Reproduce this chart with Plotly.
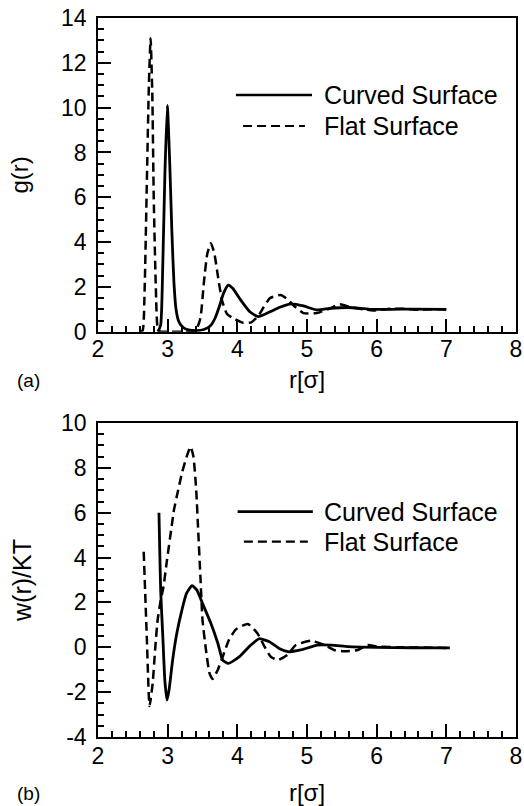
import plotly.graph_objects as go
from plotly.subplots import make_subplots

# ---- data: (a) radial distribution g(r) ----
r_g_curved = [2.86, 2.90, 2.93, 2.96, 2.995, 3.03, 3.06, 3.09, 3.12, 3.16, 3.22, 3.30, 3.42, 3.52,
              3.61, 3.68, 3.75, 3.80, 3.87, 3.93, 4.04, 4.18, 4.30, 4.47, 4.61, 4.77, 4.95, 5.14,
              5.33, 5.60, 5.90, 6.20, 6.50, 7.00]
g_curved = [0.0, 0.3, 3.0, 7.0, 10.1, 7.5, 4.5, 2.2, 1.0, 0.45, 0.2, 0.08, 0.05, 0.1,
            0.25, 0.6, 1.2, 1.7, 2.08, 1.95, 1.45, 0.89, 0.67, 0.89, 1.09, 1.24, 1.15, 0.97,
            1.04, 1.08, 1.0, 1.0, 1.01, 1.0]

r_g_flat = [2.60, 2.64, 2.67, 2.70, 2.73, 2.755, 2.78, 2.80, 2.83, 2.86, 2.90, 3.00, 3.20, 3.40,
            3.47, 3.52, 3.57, 3.62, 3.67, 3.72, 3.78, 3.85, 3.94, 4.08, 4.20, 4.30, 4.37, 4.47,
            4.62, 4.72, 4.80, 4.95, 5.14, 5.30, 5.47, 5.62, 5.81, 5.95, 6.20, 6.40, 6.60, 6.80, 7.00]
g_flat = [0.0, 0.05, 2.0, 6.5, 11.0, 13.1, 10.5, 6.0, 2.0, 0.1, 0.0, 0.0, 0.0, 0.05,
          0.6, 2.2, 3.5, 3.95, 3.5, 2.5, 1.4, 0.8, 0.6, 0.4, 0.42, 0.7, 1.06, 1.5,
          1.64, 1.45, 1.19, 0.83, 0.83, 1.0, 1.22, 1.1, 1.0, 0.95, 1.02, 1.02, 0.98, 1.0, 1.0]

# ---- data: (b) potential of mean force w(r)/KT ----
r_w_curved = [2.875, 2.885, 2.90, 2.93, 2.96, 2.99, 3.02, 3.07, 3.13, 3.20, 3.27, 3.35, 3.42,
              3.50, 3.62, 3.72, 3.79, 3.87, 4.03, 4.17, 4.31, 4.46, 4.60, 4.74, 4.91, 5.15,
              5.35, 5.60, 6.00, 6.50, 7.05]
w_curved = [6.0, 4.5, 2.5, 0.5, -1.5, -2.35, -1.9, -0.6, 0.6, 1.6, 2.4, 2.75, 2.55,
            1.96, 1.07, 0.18, -0.57, -0.72, -0.42, 0.03, 0.38, 0.25, -0.05, -0.2, -0.12, 0.1,
            0.1, 0.03, 0.0, -0.02, -0.03]

r_w_flat = [2.656, 2.70, 2.74, 2.785, 2.82, 2.856, 2.90, 2.94, 2.99, 3.05, 3.09, 3.15, 3.21, 3.28,
            3.33, 3.37, 3.41, 3.44, 3.47, 3.50, 3.55, 3.60, 3.645, 3.72, 3.79, 3.88, 3.98, 4.15,
            4.29, 4.39, 4.48, 4.58, 4.72, 4.84, 5.06, 5.25, 5.39, 5.53, 5.73, 5.87, 6.01, 6.40,
            6.80, 7.05]
w_flat = [4.26, 0.5, -2.62, -1.6, -0.1, 1.22, 2.1, 2.7, 3.89, 5.23, 6.12, 7.0, 7.83, 8.57,
          8.94, 8.5, 7.0, 5.08, 3.15, 1.22, -0.12, -1.15, -1.41, -1.0, -0.42, 0.33, 0.8, 1.04,
          0.62, 0.03, -0.42, -0.57, -0.34, 0.1, 0.29, 0.1, -0.12, -0.18, -0.12, 0.1, 0.03, 0.0,
          -0.02, -0.03]

series_names = ["Curved Surface", "Flat Surface"]
w_ticks = [-4, -2, 0, 2, 4, 6, 8, 10]
w_ticktext = ["-4", "-2", "0", "2", "4", "6", "8", "10"]

FONT = "Liberation Sans, Arial, sans-serif"
DASH = "9px,5px"

fig = make_subplots(rows=2, cols=1)
fig.add_trace(go.Scatter(x=r_g_curved, y=g_curved, mode="lines", name=series_names[0],
                         line=dict(color="black", width=2.8, shape="spline", smoothing=0.5),
                         showlegend=False), row=1, col=1)
fig.add_trace(go.Scatter(x=r_g_flat, y=g_flat, mode="lines", name=series_names[1],
                         line=dict(color="black", width=2.5, dash=DASH, shape="spline", smoothing=0.5),
                         showlegend=False), row=1, col=1)
fig.add_trace(go.Scatter(x=r_w_curved, y=w_curved, mode="lines", name=series_names[0],
                         line=dict(color="black", width=2.8, shape="spline", smoothing=0.5),
                         showlegend=False), row=2, col=1)
fig.add_trace(go.Scatter(x=r_w_flat, y=w_flat, mode="lines", name=series_names[1],
                         line=dict(color="black", width=2.5, dash=DASH, shape="spline", smoothing=0.5),
                         showlegend=False), row=2, col=1)

axis_common = dict(showgrid=False, zeroline=False, showline=True, linecolor="black", linewidth=1.6,
                   mirror=True, ticks="inside", ticklen=13, tickwidth=2, tickcolor="black",
                   tickfont=dict(family=FONT, size=23, color="black"), automargin=False)
minor_x = dict(tickmode="linear", tick0=2, dtick=0.2, ticklen=6, ticks="inside",
               tickcolor="black", tickwidth=1.5, showgrid=False)
minor_y = dict(tickmode="linear", tick0=0, dtick=0.5, ticklen=6, ticks="inside",
               tickcolor="black", tickwidth=1.5, showgrid=False)

def xaxis_style(standoff, tl_standoff):
    return dict(axis_common, range=[2, 8], tickmode="linear", tick0=2, dtick=1,
                ticklabelstandoff=tl_standoff, minor=minor_x,
                title=dict(text="r[σ]", font=dict(family=FONT, size=24, color="black"),
                           standoff=standoff))

fig.update_layout(
    width=524, height=806,
    margin=dict(l=98, r=8, t=18, b=69),
    paper_bgcolor="white", plot_bgcolor="white",
    font=dict(family=FONT, color="black"),
    showlegend=False,
    xaxis=dict(xaxis_style(10, -4), domain=[0, 1], anchor="y"),
    xaxis2=dict(xaxis_style(20, -2), domain=[0, 1], anchor="y2"),
    yaxis=dict(axis_common, domain=[0.5637, 1.0], range=[0, 14], tickmode="linear", tick0=0, dtick=2,
               ticklabelstandoff=5, minor=minor_y,
               title=dict(text="g(r)", font=dict(family=FONT, size=24, color="black"), standoff=26)),
    yaxis2=dict(axis_common, domain=[0, 0.4367], range=[-4, 10], tickmode="array", tickvals=w_ticks,
                ticktext=w_ticktext, ticklabelstandoff=5, minor=minor_y,
                title=dict(text="w(r)/KT", font=dict(family=FONT, size=25, color="black"), standoff=22)),
)

# manual legends (long sample lines like the original)
legend_rows = [
    # (y paper, line x0, line x1, dashed)
    (0.8929, 0.330, 0.512, False),
    (0.8498, 0.347, 0.495, True),
    (0.3134, 0.334, 0.514, False),
    (0.2716, 0.349, 0.502, True),
]
for yy, x0, x1, dashed in legend_rows:
    fig.add_shape(type="line", xref="paper", yref="paper", x0=x0, x1=x1, y0=yy, y1=yy,
                  line=dict(color="black", width=2.6 if not dashed else 2.2,
                            dash=DASH if dashed else "solid"))
    fig.add_annotation(xref="paper", yref="paper", x=0.536, y=yy, xanchor="left", yanchor="middle",
                       text=series_names[1 if dashed else 0], showarrow=False,
                       font=dict(family=FONT, size=25, color="black"))

# panel labels
fig.add_annotation(xref="paper", yref="paper", x=-0.167, y=0.4965, text="(a)", showarrow=False,
                   xanchor="center", yanchor="middle", font=dict(family=FONT, size=19, color="black"))
fig.add_annotation(xref="paper", yref="paper", x=-0.167, y=-0.078, text="(b)", showarrow=False,
                   xanchor="center", yanchor="middle", font=dict(family=FONT, size=19, color="black"))

fig.write_html("out.html", config={"displayModeBar": False},
               post_script="document.body.style.margin='0';document.body.style.overflow='hidden';")
